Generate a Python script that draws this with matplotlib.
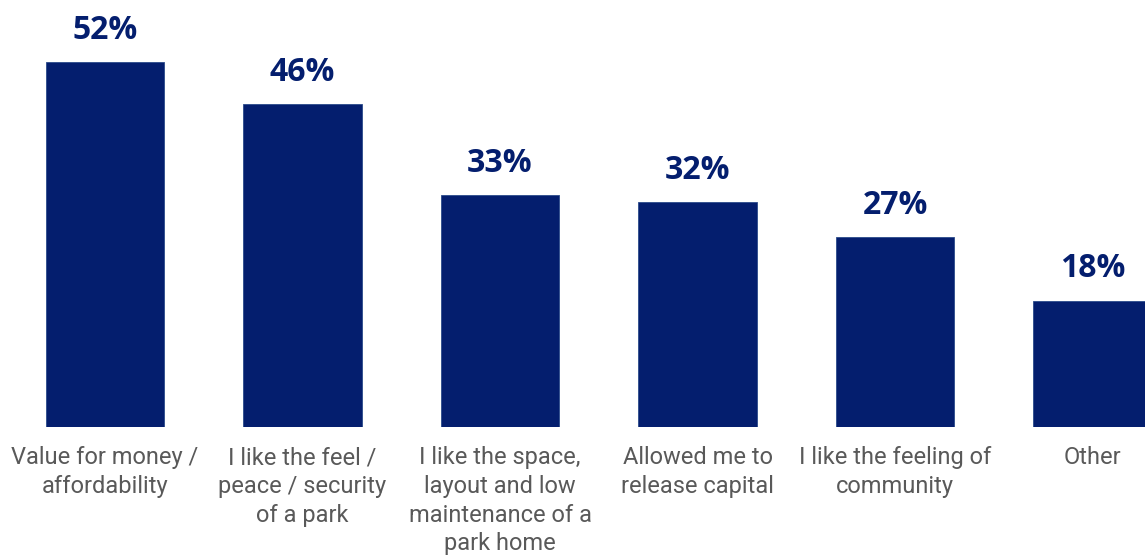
import matplotlib
matplotlib.use("Agg")
import matplotlib.pyplot as plt

# Reasons for choosing a park home (% of respondents)
categories = [
    "Value for money /\naffordability",
    "I like the feel /\npeace / security\nof a park",
    "I like the space,\nlayout and low\nmaintenance of a\npark home",
    "Allowed me to\nrelease capital",
    "I like the feeling of\ncommunity",
    "Other",
]
values = [52, 46, 33, 32, 27, 18]

navy = "#041e6e"
grey = "#595959"

fig = plt.figure(figsize=(11.45, 5.55), dpi=100)
ax = fig.add_axes([0, 128 / 555, 1, 427 / 555])

x = list(range(len(values)))
ax.bar(x, values, width=0.6, color=navy, edgecolor="#2a4a8a", linewidth=0.6)

for xi, v in zip(x, values):
    ax.text(xi, v + 2.2, f"{v}%", ha="center", va="bottom",
            fontsize=23, fontweight="bold", color=navy, family="Open Sans")

for xi, lab in zip(x, categories):
    ax.annotate(lab, xy=(xi, 0), xytext=(0, -14), textcoords="offset points",
                ha="center", va="top", fontsize=17, color=grey,
                family="Roboto", linespacing=1.31, annotation_clip=False)

ax.set_xlim(-105 / 197.5, 1040 / 197.5)
ax.set_ylim(0, 427 / 7.02)
ax.axis("off")

fig.savefig("out.png", dpi=100)
